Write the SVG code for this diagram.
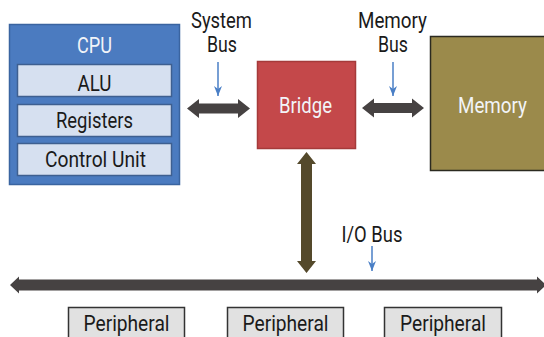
<svg xmlns="http://www.w3.org/2000/svg" width="544" height="337" viewBox="0 0 544 337">
<defs>
<style>
text{font-family:Roboto,"Liberation Sans",sans-serif;font-size:21.5px;text-anchor:middle}
.w{fill:#f2f4f8}
.k{fill:#1a1a1a}
.inner{fill:#d6e0f0;stroke:#3e5f90;stroke-width:1.5}
.per{fill:#e1e1e1;stroke:#333;stroke-width:1.5}
.bus{fill:#464242}
.blue{stroke:#4a7fc6;stroke-width:1.5;fill:none}
</style>
<marker id="ah" viewBox="0 0 10 8" refX="10" refY="4" markerWidth="10" markerHeight="8" markerUnits="userSpaceOnUse" orient="auto">
<path d="M0,0 L10,4 L0,8 L3,4 Z" fill="#4a7fc6"/>
</marker>
</defs>
<g id="cpu">
<rect x="9.5" y="24.5" width="170" height="160" fill="#4b7bc0" stroke="#3a64a0" stroke-width="1.5"/>
<text class="w" x="94.5" y="53" textLength="35" lengthAdjust="spacingAndGlyphs">CPU</text>
</g>
<g id="alu">
<rect class="inner" x="17.5" y="64.5" width="154" height="32"/>
<text class="k" x="94.5" y="91" textLength="34" lengthAdjust="spacingAndGlyphs">ALU</text>
</g>
<g id="registers">
<rect class="inner" x="17.5" y="104.5" width="154" height="32"/>
<text class="k" x="94.5" y="128" textLength="77" lengthAdjust="spacingAndGlyphs">Registers</text>
</g>
<g id="control-unit">
<rect class="inner" x="17.5" y="143.5" width="154" height="32"/>
<text class="k" x="95.5" y="167" textLength="101" lengthAdjust="spacingAndGlyphs">Control Unit</text>
</g>
<g id="bridge">
<rect x="257.5" y="61.5" width="98" height="87" fill="#c4484a" stroke="#a53a3a" stroke-width="1.5"/>
<text class="w" x="305.5" y="113" textLength="53" lengthAdjust="spacingAndGlyphs">Bridge</text>
</g>
<g id="memory">
<rect x="430.5" y="36.5" width="120" height="134" fill="#9b8a4b" stroke="#2b2a20" stroke-width="1.5"/>
<text class="w" x="492.5" y="113" textLength="69" lengthAdjust="spacingAndGlyphs">Memory</text>
</g>
<g id="peripheral-1">
<rect class="per" x="68.5" y="307.5" width="116" height="40"/>
<text class="k" x="126.5" y="331" textLength="86" lengthAdjust="spacingAndGlyphs">Peripheral</text>
</g>
<g id="peripheral-2">
<rect class="per" x="227.5" y="307.5" width="116" height="40"/>
<text class="k" x="285.5" y="331" textLength="86" lengthAdjust="spacingAndGlyphs">Peripheral</text>
</g>
<g id="peripheral-3">
<rect class="per" x="384.5" y="307.5" width="117" height="40"/>
<text class="k" x="443" y="331" textLength="86" lengthAdjust="spacingAndGlyphs">Peripheral</text>
</g>
<g id="labels">
<text class="k" x="221.5" y="28" textLength="61" lengthAdjust="spacingAndGlyphs">System</text>
<text class="k" x="222" y="52" textLength="30" lengthAdjust="spacingAndGlyphs">Bus</text>
<text class="k" x="392.5" y="28" textLength="69" lengthAdjust="spacingAndGlyphs">Memory</text>
<text class="k" x="393" y="52" textLength="30" lengthAdjust="spacingAndGlyphs">Bus</text>
<text class="k" x="372" y="242" textLength="61" lengthAdjust="spacingAndGlyphs">I/O Bus</text>
</g>
<g id="connectors">
<polygon class="bus" points="187,108.5 199,99 199,103.5 238,103.5 238,99 250,108.5 238,118 238,113.5 199,113.5 199,118"/>
<polygon class="bus" points="362,108 374,98.5 374,103 412,103 412,98.5 424,108 412,117.5 412,113 374,113 374,117.5"/>
<polygon fill="#54492b" points="306.5,152 316,164 312,164 312,261 316,261 306.5,273 297,261 301,261 301,164 297,164"/>
<polygon class="bus" points="10,285 19,276.5 19,279.5 537,279.5 537,276.5 546,285 537,293.5 537,290.5 19,290.5 19,293.5"/>
<line class="blue" x1="218" y1="62" x2="218" y2="96" marker-end="url(#ah)"/>
<line class="blue" x1="393" y1="62" x2="393" y2="96" marker-end="url(#ah)"/>
<line class="blue" x1="372" y1="246" x2="372" y2="271" marker-end="url(#ah)"/>
</g>
</svg>
